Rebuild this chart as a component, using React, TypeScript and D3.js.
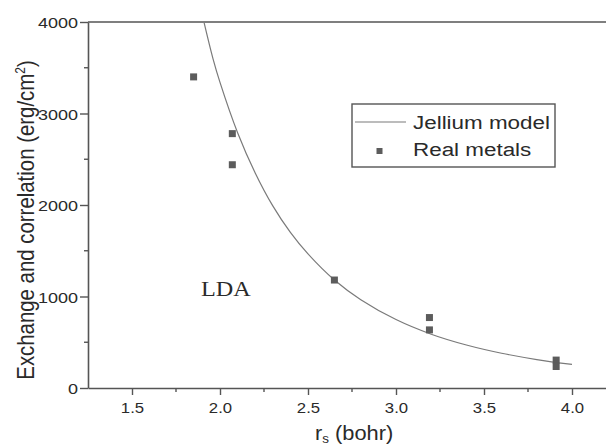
import React, { useEffect, useRef } from "react";
import * as d3 from "d3";

// jellium model curve
const curveRs = [1.91, 1.96, 2.0, 2.1, 2.2, 2.3, 2.4, 2.5, 2.65, 2.8, 3.0, 3.2, 3.4, 3.6, 3.8, 4.0];
const curveSigma = [3990, 3600, 3340, 2790, 2350, 1990, 1700, 1465, 1180, 965, 748, 588, 470, 380, 311, 258];

// real metals
const metalRs = [1.85, 2.07, 2.07, 2.65, 3.19, 3.19, 3.91, 3.91];
const metalSigma = [3400, 2780, 2440, 1180, 770, 635, 305, 235];

const xTicks = [1.5, 2.0, 2.5, 3.0, 3.5, 4.0];
const xMinor = [1.75, 2.25, 2.75, 3.25, 3.75];
const yTicks = [0, 1000, 2000, 3000, 4000];
const yMinor = [500, 1500, 2500, 3500];

const W = 606;
const H = 448;
const FONT = "'Liberation Sans', Arial, sans-serif";
const AXIS = "#555";
const TEXT = "#2a2a2a";
// the source picture is a bit stretched sideways
const SX = 1.16;

export default function App() {
  const svgRef = useRef<SVGSVGElement>(null);

  useEffect(() => {
    const svg = d3.select(svgRef.current);
    svg.selectAll("*").remove();

    const x = d3.scaleLinear().domain([1.25, 4.2]).range([88, 607.2]);
    const y = d3.scaleLinear().domain([0, 4000]).range([388, 22]);

    // top frame line
    svg.append("line")
      .attr("x1", x(1.25)).attr("x2", W)
      .attr("y1", y(4000)).attr("y2", y(4000))
      .attr("stroke", AXIS).attr("stroke-width", 1.6);

    const xAxis = svg.append("g")
      .attr("transform", `translate(0,${y(0)})`)
      .call(d3.axisBottom(x).tickValues(xTicks).tickFormat(d3.format(".1f")).tickSize(7).tickSizeOuter(0));
    xAxis.append("g").selectAll("line").data(xMinor).join("line")
      .attr("x1", d => x(d)).attr("x2", d => x(d))
      .attr("y1", 0).attr("y2", 4)
      .attr("stroke", AXIS).attr("stroke-width", 1.4);

    const yAxis = svg.append("g")
      .attr("transform", `translate(${x(1.25)},0)`)
      .call(d3.axisLeft(y).tickValues(yTicks).tickFormat(d3.format("d")).tickSize(8).tickSizeOuter(0));
    yAxis.append("g").selectAll("line").data(yMinor).join("line")
      .attr("x1", 0).attr("x2", -4)
      .attr("y1", d => y(d)).attr("y2", d => y(d))
      .attr("stroke", AXIS).attr("stroke-width", 1.4);

    [xAxis, yAxis].forEach(g => {
      g.select(".domain").attr("stroke", AXIS).attr("stroke-width", 1.6);
      g.selectAll(".tick line").attr("stroke", AXIS).attr("stroke-width", 1.4);
      g.selectAll(".tick text")
        .attr("fill", TEXT)
        .attr("font-family", FONT)
        .attr("font-size", 15.5);
    });
    xAxis.selectAll(".tick text")
      .attr("y", 0).attr("dy", null)
      .attr("transform", `translate(0,25) scale(${1.08},1)`);
    yAxis.selectAll(".tick text")
      .attr("x", 0).attr("dy", "0.36em")
      .attr("transform", `translate(-10,0) scale(${SX},1)`);

    // jellium curve
    const pts: [number, number][] = curveRs.map((r, i) => [r, curveSigma[i]]);
    const line = d3.line<[number, number]>()
      .x(d => x(d[0]))
      .y(d => y(d[1]))
      .curve(d3.curveCatmullRom);
    svg.append("path")
      .datum(pts)
      .attr("fill", "none")
      .attr("stroke", "#7a7a7a")
      .attr("stroke-width", 1.2)
      .attr("d", line);

    // real metals
    const m = 7;
    svg.append("g").selectAll("rect")
      .data(metalRs.map((r, i) => [r, metalSigma[i]]))
      .join("rect")
      .attr("x", d => x(d[0]) - m / 2)
      .attr("y", d => y(d[1]) - m / 2)
      .attr("width", m)
      .attr("height", m)
      .attr("fill", "#5c5c5c");

    // legend
    const lg = svg.append("g");
    lg.append("rect")
      .attr("x", 352).attr("y", 104).attr("width", 203).attr("height", 63)
      .attr("fill", "white").attr("stroke", AXIS).attr("stroke-width", 1.4);
    lg.append("line")
      .attr("x1", 355).attr("x2", 406).attr("y1", 122).attr("y2", 122)
      .attr("stroke", "#7a7a7a").attr("stroke-width", 1.2);
    lg.append("rect")
      .attr("x", 376.5).attr("y", 148).attr("width", 6).attr("height", 6)
      .attr("fill", "#5c5c5c");
    const labels = [["Jellium model", 128.5], ["Real metals", 155.5]] as const;
    labels.forEach(([t, ty]) => {
      lg.append("text")
        .attr("transform", `translate(413,${ty}) scale(1.18,1)`)
        .attr("font-family", FONT).attr("font-size", 19).attr("fill", TEXT)
        .text(t);
    });

    // LDA label
    svg.append("text")
      .attr("transform", "translate(201,296) scale(1.1,1)")
      .attr("font-family", "'Liberation Serif', 'Times New Roman', serif")
      .attr("font-size", 22)
      .attr("fill", TEXT)
      .text("LDA");

    // axis titles
    const xt = svg.append("text")
      .attr("transform", `translate(315,440) scale(1.12,1)`)
      .attr("font-family", FONT).attr("font-size", 19.5).attr("fill", TEXT);
    xt.append("tspan").text("r");
    xt.append("tspan").attr("font-size", 12).attr("dy", 3).text("s");
    xt.append("tspan").attr("dy", -3).text(" (bohr)");

    const yt = svg.append("text")
      .attr("transform", `translate(34,220) scale(${SX},1) rotate(-90)`)
      .attr("text-anchor", "middle")
      .attr("font-family", FONT).attr("font-size", 20.4).attr("fill", TEXT);
    yt.append("tspan").text("Exchange and correlation (erg/cm");
    yt.append("tspan").attr("font-size", 12).attr("dy", -8).text("2");
    yt.append("tspan").attr("dy", 8).text(")");
  }, []);

  return (
    <svg
      ref={svgRef}
      width={W}
      height={H}
      style={{ position: "absolute", left: 0, top: 0, background: "white", display: "block" }}
    />
  );
}
